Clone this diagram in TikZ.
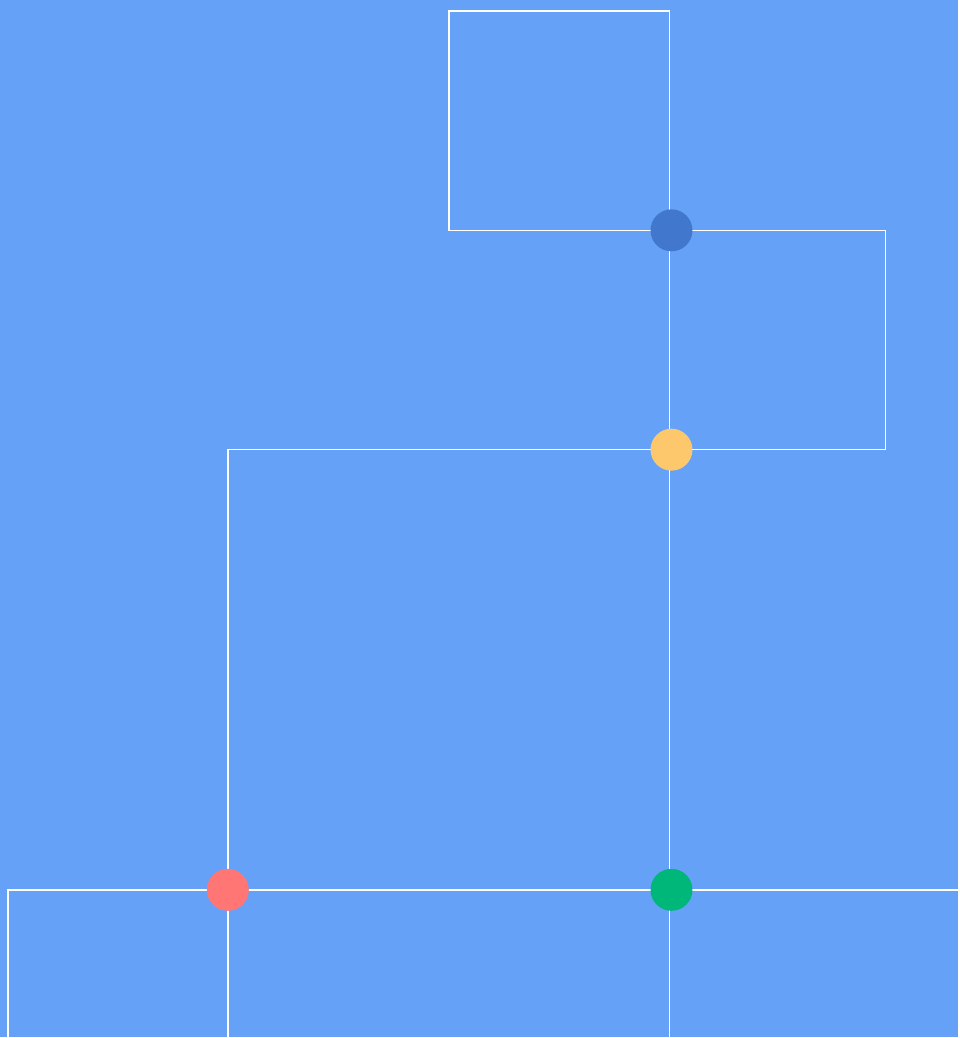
\documentclass[tikz,border=0pt]{standalone}
\usepackage{tikz}
\definecolor{gridbg}{HTML}{65A1F7}
\definecolor{dotblue}{HTML}{4177CC}
\definecolor{dotyellow}{HTML}{FDC76B}
\definecolor{dotred}{HTML}{FF7675}
\definecolor{dotgreen}{HTML}{00B77A}

\begin{document}
\begin{tikzpicture}[x=1pt,y=-1pt,
  wire/.style={white,line width=1.6pt},
  dot/.style={circle,inner sep=0pt,minimum size=42pt}]
  \fill[gridbg] (0,0) rectangle (959,1038);
  % junction points
  \coordinate (jblue) at (672,230.5);
  \coordinate (jyellow) at (672,450);
  \coordinate (jred) at (228,890.5);
  \coordinate (jgreen) at (672,890.5);
  \coordinate (tl) at (449.5,11);
  \coordinate (tr) at (670,11);
  \coordinate (rr) at (886,230.5);
  \coordinate (ll) at (228,450);
  \coordinate (lo) at (8,890.5);
  \coordinate (lob) at (8,1038);
  \coordinate (redb) at (228,1038);
  \coordinate (greenr) at (959,890.5);
  \coordinate (greenb) at (670,1038);
  % wires
  \draw[wire] (jblue) -| (tl) -- (tr) -- (tr|-jblue);
  \draw[wire] (jblue) -- (rr) |- (jyellow);
  \draw[wire] (tr|-jblue) -- (greenb);
  \draw[wire] (jyellow) -| (jred);
  \draw[wire] (jred) -- (jgreen) -- (greenr);
  \draw[wire] (jred) -- (lo) -- (lob);
  \draw[wire] (jred) -- (redb);
  % dots
  \node[dot,fill=dotblue] (blue) at (jblue) {};
  \node[dot,fill=dotyellow] (yellow) at (jyellow) {};
  \node[dot,fill=dotred] (red) at (jred) {};
  \node[dot,fill=dotgreen] (green) at (jgreen) {};
\end{tikzpicture}
\end{document}
